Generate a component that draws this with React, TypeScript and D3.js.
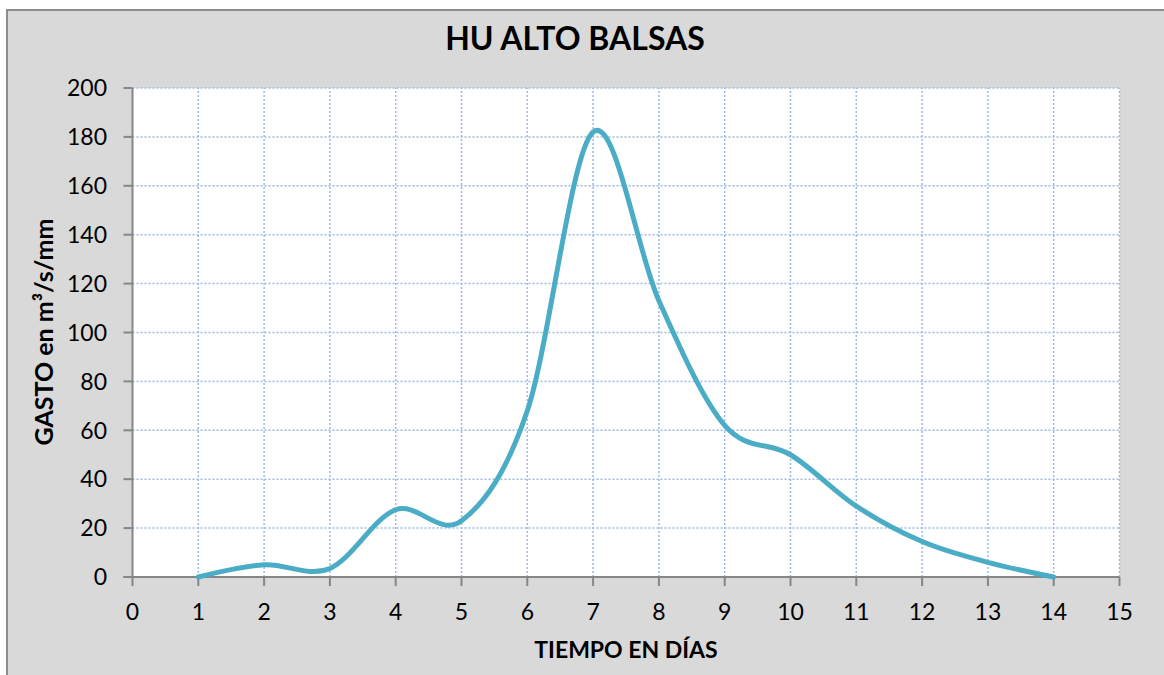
import React from "react";
import * as d3 from "d3";

const days = [1, 2, 3, 4, 5, 6, 7, 8, 9, 10, 11, 12, 13, 14];
const flow = [0, 5, 3.5, 27.5, 23, 68, 182, 113, 62, 50, 29, 14.5, 6, 0];
const xTicks = d3.range(0, 16);
const yTicks = d3.range(0, 201, 20);
const title = "HU ALTO BALSAS";
const xLabel = "TIEMPO EN DÍAS";

const W = 1164;
const H = 675;
const FONT = "Lato, 'Open Sans', sans-serif";

export default function App() {
  const x = d3.scaleLinear().domain([0, 15]).range([132.5, 1119.5]);
  const y = d3.scaleLinear().domain([0, 200]).range([577, 88]);
  const line = d3
    .line<number>()
    .x((_, i) => x(days[i]))
    .y((d) => y(d))
    .curve(d3.curveCardinal.tension(0));
  const grid = "#9DB9E8";
  const axis = "#868686";
  return (
    <svg
      width={W}
      height={H}
      style={{ position: "absolute", left: 0, top: 0, background: "#fff" }}
    >
      <rect x={7} y={10} width={W} height={H} fill="#D9D9D9" stroke="#8C8C8C" strokeWidth={2} />
      <rect x={x(0)} y={y(200)} width={x(15) - x(0)} height={y(0) - y(200)} fill="#fff" />
      {xTicks.slice(1).map((t) => (
        <line key={"gx" + t} x1={x(t)} x2={x(t)} y1={y(0)} y2={y(200)} stroke={grid} strokeWidth={1.5} strokeDasharray="2,2" />
      ))}
      {yTicks.slice(1).map((t) => (
        <line key={"gy" + t} x1={x(0)} x2={x(15)} y1={y(t)} y2={y(t)} stroke={grid} strokeWidth={1.5} strokeDasharray="2,2" />
      ))}
      <line x1={x(0)} x2={x(0)} y1={y(0)} y2={y(200)} stroke={axis} strokeWidth={2} />
      <line x1={x(0) - 9} x2={x(15)} y1={y(0)} y2={y(0)} stroke={axis} strokeWidth={2} />
      {yTicks.map((t) => (
        <g key={"yt" + t}>
          <line x1={x(0) - 9} x2={x(0)} y1={y(t)} y2={y(t)} stroke={axis} strokeWidth={2} />
          <text x={107} y={y(t)} dy="0.36em" textAnchor="end" fontFamily={FONT} fontWeight={400} fontSize={23} fill="#000">
            {t}
          </text>
        </g>
      ))}
      {xTicks.map((t) => (
        <g key={"xt" + t}>
          <line x1={x(t)} x2={x(t)} y1={y(0)} y2={y(0) + 9} stroke={axis} strokeWidth={2} />
          <text x={x(t)} y={y(0) + 43} textAnchor="middle" fontFamily={FONT} fontWeight={400} fontSize={23} fill="#000">
            {t}
          </text>
        </g>
      ))}
      <path d={line(flow) || ""} fill="none" stroke="#4BACC6" strokeWidth={5} strokeLinecap="round" strokeLinejoin="round" />
      <text x={575} y={50} textAnchor="middle" fontFamily={FONT} fontWeight="bold" fontSize={32} fill="#000">
        {title}
      </text>
      <text x={626} y={658} textAnchor="middle" fontFamily={FONT} fontWeight="bold" fontSize={23} fill="#000">
        {xLabel}
      </text>
      <text
        transform={`translate(53,332) rotate(-90)`}
        textAnchor="middle"
        fontFamily={FONT}
        fontWeight="bold"
        fontSize={25}
        fill="#000"
      >
        GASTO en m³/s/mm
      </text>
    </svg>
  );
}
